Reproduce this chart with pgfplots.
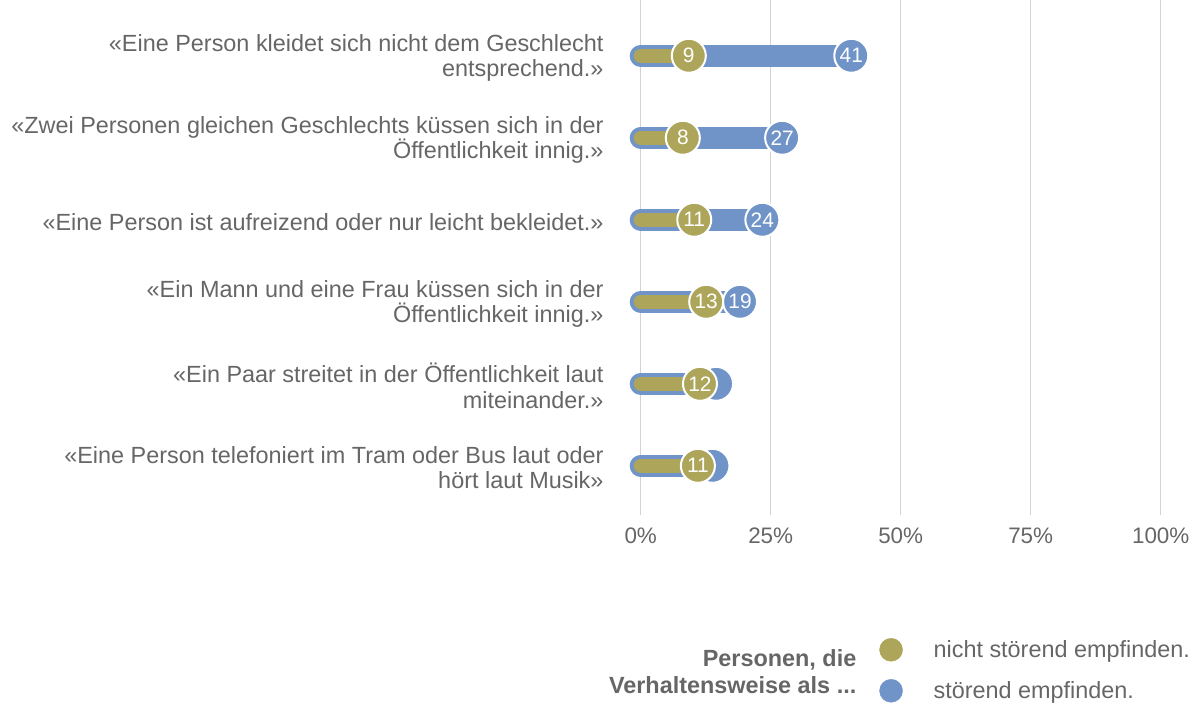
\documentclass[border=0pt]{standalone}
\usepackage{fontspec}
\setmainfont{Liberation Sans}
\usepackage{pgfplots}
\pgfplotsset{compat=1.18}
\definecolor{cblue}{HTML}{7094C8}
\definecolor{colive}{HTML}{ADA55A}
\definecolor{txt}{HTML}{666666}
\definecolor{gridc}{HTML}{D3D3D3}
\begin{document}
\begin{tikzpicture}
\useasboundingbox (0bp,0bp) rectangle (1199bp,704bp);
\begin{axis}[
  at={(640.7bp,189bp)}, anchor=south west,
  scale only axis, width=520bp, height=515bp,
  xmin=0, xmax=100, ymin=0.40, ymax=6.68,
  xtick={0,25,50,75,100},
  xticklabels={0\%,25\%,50\%,75\%,100\%},
  ytick={1,2,3,4,5,6},
  yticklabels={
    {«Eine Person telefoniert im Tram oder Bus laut oder\\hört laut Musik»},
    {«Ein Paar streitet in der Öffentlichkeit laut\\miteinander.»},
    {«Ein Mann und eine Frau küssen sich in der\\Öffentlichkeit innig.»},
    {«Eine Person ist aufreizend oder nur leicht bekleidet.»},
    {«Zwei Personen gleichen Geschlechts küssen sich in der\\Öffentlichkeit innig.»},
    {«Eine Person kleidet sich nicht dem Geschlecht\\entsprechend.»}},
  yticklabel style={font=\fontsize{23.5}{25.5}\selectfont, text=txt, align=right, inner sep=0pt, xshift=-37bp, yshift=-2bp},
  xticklabel style={font=\fontsize{22.5}{25}\selectfont, text=txt, inner sep=0pt, yshift=-13bp},
  major tick length=0pt,
  axis line style={draw=none},
  xmajorgrids, grid style={draw=gridc, line width=1bp},
  clip=false,
  legend style={at={(0.459,-0.239)}, anchor=north west, draw=none, fill=none,
    font=\fontsize{23.5}{26}\selectfont, text=txt, row sep=18bp, column sep=29bp, inner sep=0pt,
    nodes={inner sep=2bp}},
  legend cell align=left,
]
% blue bars
\addplot[cblue, line width=22bp, line cap=round, unbounded coords=jump, forget plot]
  coordinates {(0,6)(40.5,6) (nan,nan) (0,5)(27.2,5) (nan,nan) (0,4)(23.4,4) (nan,nan)
               (0,3)(19.1,3) (nan,nan) (0,2)(14.5,2) (nan,nan) (0,1)(13.8,1)};
% blue circles
\addplot[only marks, mark=*, mark size=17bp, mark options={fill=cblue, draw=white, line width=2bp},
  point meta=explicit symbolic, nodes near coords, nodes near coords align=center,
  every node near coord/.append style={anchor=center, text=white, font=\fontsize{21}{22}\selectfont, inner sep=0pt},
  forget plot]
  coordinates {(40.5,6)[41] (27.2,5)[27] (23.4,4)[24] (19.1,3)[19]};
\addplot[only marks, mark=*, mark size=17bp, mark options={fill=cblue, draw=white, line width=2bp}, forget plot]
  coordinates {(14.5,2) (13.8,1)};
% olive bars
\addplot[colive, line width=14bp, line cap=round, unbounded coords=jump, forget plot]
  coordinates {(0,6)(9.25,6) (nan,nan) (0,5)(8.1,5) (nan,nan) (0,4)(10.3,4) (nan,nan)
               (0,3)(12.6,3) (nan,nan) (0,2)(11.4,2) (nan,nan) (0,1)(11.0,1)};
% olive circles
\addplot[only marks, mark=*, mark size=17bp, mark options={fill=colive, draw=white, line width=2bp},
  point meta=explicit symbolic, nodes near coords, nodes near coords align=center,
  every node near coord/.append style={anchor=center, text=white, font=\fontsize{21}{22}\selectfont, inner sep=0pt},
  forget plot]
  coordinates {(9.25,6)[9] (8.1,5)[8] (10.3,4)[11] (12.6,3)[13] (11.4,2)[12] (11.0,1)[11]};
\addlegendimage{only marks, colive, mark=*, mark size=11.5bp, mark options={fill=colive, draw=colive}}
\addlegendentry{nicht störend empfinden.}
\addlegendimage{only marks, cblue, mark=*, mark size=11.5bp, mark options={fill=cblue, draw=cblue}}
\addlegendentry{störend empfinden.}
\node[anchor=east, align=right, text=txt, font=\fontsize{23.5}{27}\bfseries\selectfont, inner sep=0pt]
  at (rel axis cs:0.415,-0.305) {Personen, die\\Verhaltensweise als ...};
\end{axis}
\end{tikzpicture}
\end{document}
